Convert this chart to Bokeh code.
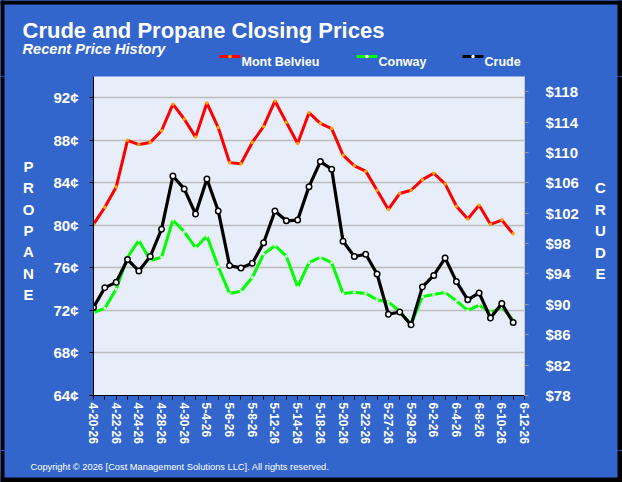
import math

from bokeh.embed import file_html
from bokeh.layouts import column, row
from bokeh.models import (BoxAnnotation, FixedTicker, Label, LinearAxis,
                          PrintfTickFormatter, Range1d)
from bokeh.plotting import figure
from bokeh.resources import INLINE

# ---- data -------------------------------------------------------------
# date labels shown under every other trading day (39 trading days in all)
tick_labels = ["4-20-26", "4-22-26", "4-24-26", "4-28-26", "4-30-26",
               "5-4-26", "5-6-26", "5-8-26", "5-12-26", "5-14-26",
               "5-18-26", "5-20-26", "5-22-26", "5-27-26", "5-29-26",
               "6-2-26", "6-4-26", "6-8-26", "6-10-26", "6-12-26"]
n_days = 39

# propane closing prices, cents per gallon
mont_belvieu = [80.1, 81.7, 83.6, 88.0, 87.6, 87.8, 88.9, 91.4, 90.0, 88.3,
                91.5, 89.2, 85.9, 85.8, 87.8, 89.3, 91.7, 89.7, 87.7, 90.6,
                89.6, 89.1, 86.6, 85.6, 85.1, 83.3, 81.5, 83.0, 83.3, 84.3,
                84.9, 83.9, 81.8, 80.6, 81.9, 80.1, 80.5, 79.2]
conway = [71.8, 72.2, 74.0, 77.0, 78.6, 76.7, 77.0, 80.5, 79.4, 77.9,
          79.0, 76.1, 73.6, 73.8, 75.1, 77.3, 78.1, 77.1, 74.2, 76.5,
          77.0, 76.5, 73.6, 73.7, 73.6, 73.0, 72.8, 71.9, 70.7, 73.3,
          73.5, 73.7, 72.9, 72.0, 72.5, 71.8, 72.3, 71.1]
# crude oil closing prices, dollars per barrel
crude = [89.6, 92.2, 92.9, 95.9, 94.4, 96.3, 99.9, 106.9, 105.2, 101.9,
         106.5, 102.3, 95.1, 94.8, 95.4, 98.1, 102.3, 101.0, 101.1, 105.5,
         108.8, 107.8, 98.3, 96.3, 96.6, 94.0, 88.7, 89.0, 87.3, 92.3,
         93.8, 96.1, 93.0, 90.6, 91.5, 88.2, 90.1, 87.6]

series_names = ["Mont Belvieu", "Conway", "Crude"]
propane_ticks = list(range(64, 93, 4))
crude_ticks = list(range(78, 119, 4))

# ---- page geometry (pixels) -------------------------------------------
W, H = 622, 482
TOP_H = 76            # title band
BOT_Y = 450           # copyright band starts here
LEFT_W = 44           # "PROPANE" strip
RIGHT_X = 585         # "CRUDE" strip starts here
FL, FR, FB = 93, 524, 395   # plot frame edges on the page

BLUE = "#3366cc"
EDGE = "black"
FONT = "Liberation Sans"
WHITE = "white"
RIM = [(0, 4, 0, H), (617, W, 0, H), (0, W, 0, 4), (0, W, 477, H)]
PANEL_CSS = {"background-color": BLUE}


def band(x0, x1, y0, y1):
    """A plain panel whose data units are page pixels (y grows downward)."""
    f = figure(width=x1 - x0, height=y1 - y0, output_backend="svg",
               toolbar_location=None, x_axis_type=None, y_axis_type=None,
               x_range=Range1d(x0, x1), y_range=Range1d(y1, y0),
               min_border=0, min_border_left=0, min_border_right=0,
               min_border_top=0, min_border_bottom=0,
               background_fill_color=BLUE, border_fill_color=BLUE,
               outline_line_color=None, styles=PANEL_CSS)
    f.grid.visible = False
    # dark rim of the whole page, only where it crosses this panel
    for l, r, t, b in RIM:
        l2, r2, t2, b2 = max(l, x0), min(r, x1), max(t, y0), min(b, y1)
        if l2 < r2 and t2 < b2:
            f.add_layout(BoxAnnotation(left=l2, right=r2, top=t2, bottom=b2,
                                       fill_color=EDGE, fill_alpha=1,
                                       line_color=None))
    return f


# ---- title band with legend -------------------------------------------
top = band(0, W, 0, TOP_H)
top.add_layout(Label(x=22, y=30, text="Crude and Propane Closing Prices",
                     text_font=FONT, text_font_style="bold", text_font_size="22px",
                     text_color=WHITE, text_baseline="alphabetic"))
top.add_layout(Label(x=22, y=48, text="Recent Price History",
                     text_font=FONT, text_font_style="bold italic",
                     text_font_size="14.6px", text_color=WHITE,
                     text_baseline="alphabetic"))

legend_x = [219, 356, 462]
legend_line = ["#ff0000", "#00ff00", "black"]
legend_dot = ["#ffa500", "white", "white"]
for name, x0, lc, dc in zip(series_names, legend_x, legend_line, legend_dot):
    top.line([x0, x0 + 21], [56, 56], line_color=lc, line_width=3)
    top.scatter([x0 + 10.5], [56], size=3.5, fill_color=dc, line_color=None)
    top.add_layout(Label(x=x0 + 22, y=61, text=name,
                         text_font=FONT, text_font_style="bold",
                         text_font_size="12.5px", text_color=WHITE,
                         text_baseline="alphabetic"))

# ---- side strips ------------------------------------------------------
left = band(0, LEFT_W, TOP_H, BOT_Y)
for k, ch in enumerate("PROPANE"):
    left.add_layout(Label(x=28, y=166 + 21.33 * k, text=ch, text_font=FONT,
                          text_font_style="bold", text_font_size="15px",
                          text_color=WHITE, text_align="center",
                          text_baseline="middle"))

right = band(RIGHT_X, W, TOP_H, BOT_Y)
for k, ch in enumerate("CRUDE"):
    right.add_layout(Label(x=600, y=187 + 21.5 * k, text=ch, text_font=FONT,
                           text_font_style="bold", text_font_size="15px",
                           text_color=WHITE, text_align="center",
                           text_baseline="middle"))

bottom = band(0, W, BOT_Y, H)
bottom.add_layout(Label(x=30, y=466,
                        text="Copyright \u00a9 2026  [Cost Management Solutions  LLC].  All rights reserved.",
                        text_font=FONT, text_font_size="9.3px", text_color=WHITE,
                        text_baseline="alphabetic"))

# ---- main chart -------------------------------------------------------
chart = figure(width=RIGHT_X - LEFT_W, height=BOT_Y - TOP_H,
               output_backend="svg", toolbar_location=None,
               x_range=Range1d(0, n_days - 1), y_range=Range1d(64, 94),
               min_border=0, min_border_left=FL - LEFT_W,
               min_border_right=RIGHT_X - FR, min_border_top=0,
               min_border_bottom=BOT_Y - FB,
               background_fill_color="#e7eef9", border_fill_color=BLUE,
               outline_line_color=None, styles=PANEL_CSS)
chart.extra_y_ranges = {"crude": Range1d(78, 120)}

yticker = FixedTicker(ticks=propane_ticks)
ya = chart.yaxis[0]
ya.ticker = yticker
ya.formatter = PrintfTickFormatter(format="%d¢")
ya.axis_line_color = "black"
ya.major_tick_line_color = "black"
ya.major_tick_out = 4
ya.major_tick_in = 0
ya.minor_tick_line_color = None
ya.major_label_standoff = 11
ya.major_label_text_color = WHITE
ya.major_label_text_font = FONT
ya.major_label_text_font_style = "bold"
ya.major_label_text_font_size = "15px"

chart.xgrid.visible = False
chart.ygrid.ticker = yticker
chart.ygrid.grid_line_color = "#bdbdbd"
chart.ygrid.grid_line_width = 1.5

ra = LinearAxis(y_range_name="crude", ticker=FixedTicker(ticks=crude_ticks),
                formatter=PrintfTickFormatter(format="$%d"))
ra.axis_line_color = "#c8c8c8"
ra.major_tick_line_color = "#9a9a9a"
ra.major_tick_out = 4
ra.major_tick_in = 0
ra.minor_tick_line_color = None
ra.major_label_standoff = 17
ra.major_label_text_color = WHITE
ra.major_label_text_font = FONT
ra.major_label_text_font_style = "bold"
ra.major_label_text_font_size = "15px"
chart.add_layout(ra, "right")

# a tick for every trading day, a date under every other one
xa = chart.xaxis[0]
xa.ticker = FixedTicker(ticks=list(range(n_days)))
overrides = {i: "" for i in range(n_days)}
for k, lab in enumerate(tick_labels):
    overrides[2 * k] = lab
xa.major_label_overrides = overrides
xa.major_label_orientation = -math.pi / 2
xa.axis_line_color = "black"
xa.major_tick_line_color = "black"
xa.major_tick_out = 4
xa.major_tick_in = 0
xa.minor_tick_line_color = None
xa.major_label_standoff = 3
xa.major_label_text_color = WHITE
xa.major_label_text_font = FONT
xa.major_label_text_font_style = "bold"
xa.major_label_text_font_size = "12px"

xs = list(range(len(crude)))
chart.line(xs, mont_belvieu, line_color="#ff0000", line_width=3)
chart.scatter(xs, mont_belvieu, size=3.5, fill_color="#ffa500", line_color=None)
chart.line(xs, conway, line_color="#00ff00", line_width=3)
chart.scatter(xs, conway, size=3, fill_color="#d8ffd8", line_color=None)
chart.line(xs, crude, line_color="black", line_width=3.2, y_range_name="crude")
chart.scatter(xs, crude, size=5.5, fill_color="white", line_color="black",
              line_width=1.5, y_range_name="crude")

p = column(top,
           row(left, column(chart, spacing=0, styles=PANEL_CSS), right,
               spacing=0, styles=PANEL_CSS),
           bottom, spacing=0, styles=PANEL_CSS)

open("out.html", "w").write(file_html(p, INLINE))
